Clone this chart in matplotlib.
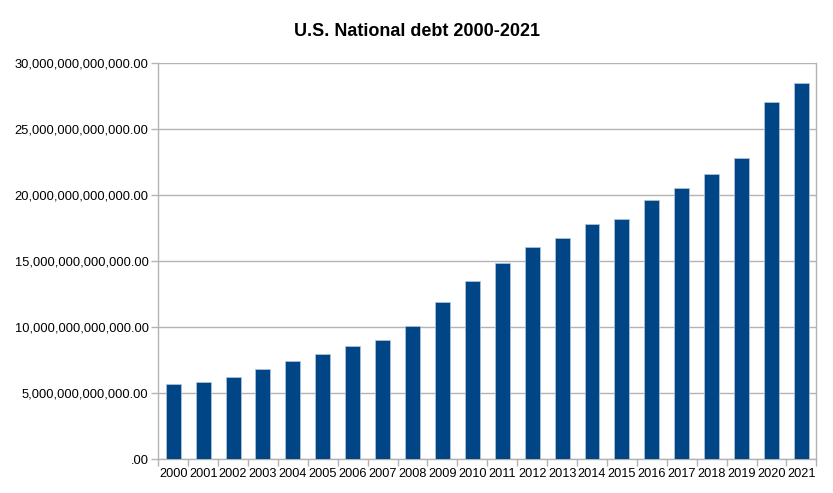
import matplotlib
matplotlib.use("Agg")
import matplotlib.pyplot as plt
from matplotlib.ticker import FuncFormatter, FixedLocator

years = [str(y) for y in range(2000, 2022)]
debt_trillions = [5.69, 5.84, 6.25, 6.83, 7.41, 7.96, 8.55, 9.03, 10.06, 11.93,
                  13.53, 14.84, 16.11, 16.76, 17.85, 18.20, 19.62, 20.56, 21.64,
                  22.86, 27.08, 28.50]
debt = [v * 1e12 for v in debt_trillions]
title = "U.S. National debt 2000-2021"

plt.rcParams['font.family'] = ['Liberation Sans', 'DejaVu Sans']

fig = plt.figure(figsize=(8.33, 4.93), dpi=100)
ax = fig.add_axes([0.190, 0.0684, 0.790, 0.8032])

x = list(range(len(years)))
ax.bar(x, debt, width=0.5, color='#004586', edgecolor='#b4c7dc', linewidth=0.5, zorder=3)

ax.set_xlim(-0.5, len(years) - 0.5)
ax.set_ylim(0, 30e12)
ax.set_yticks([i * 5e12 for i in range(7)])

def fmt(v, pos):
    if v == 0:
        return ".00"
    return f"{v:,.2f}"
ax.yaxis.set_major_formatter(FuncFormatter(fmt))

ax.set_xticks(x)
ax.set_xticklabels(years)
ax.xaxis.set_minor_locator(FixedLocator([i - 0.5 for i in range(len(years) + 1)]))
ax.tick_params(axis='x', which='major', length=0, labelsize=9.2, pad=6, colors='#000000')
ax.tick_params(axis='x', which='minor', length=5, color='#b3b3b3', width=1)
ax.tick_params(axis='y', length=5, color='#b3b3b3', width=1, labelsize=9.25, pad=2)

ax.grid(axis='y', color='#b3b3b3', linewidth=1, zorder=0)
for s in ['left', 'right', 'bottom', 'top']:
    ax.spines[s].set_color('#b3b3b3')
    ax.spines[s].set_linewidth(1)
ax.spines['top'].set_visible(False)

fig.text(0.5, 1 - 31 / 493, title, ha='center', va='center', fontsize=13, fontweight='bold')

fig.savefig("out.png", dpi=100)
